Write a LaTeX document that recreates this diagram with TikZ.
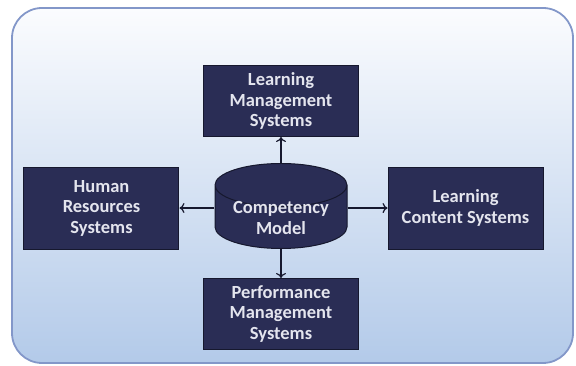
\documentclass[tikz,border=0pt]{standalone}
\usepackage{fontspec}
\setmainfont{Carlito}
\usetikzlibrary{positioning,shapes.geometric,arrows.meta}

\definecolor{boxfill}{HTML}{2A2D55}
\definecolor{boxline}{HTML}{16182E}
\definecolor{boxtext}{HTML}{E4E5EE}
\definecolor{panelline}{HTML}{8397C9}
\definecolor{paneltop}{HTML}{FBFCFE}
\definecolor{panelmid}{HTML}{DCE6F4}
\definecolor{panelbot}{HTML}{B3CAE9}

\tikzset{
  sysbox/.style={draw=boxline, line width=1pt, fill=boxfill, text=boxtext,
    font=\fontsize{18.5}{20.5}\selectfont\bfseries, align=center,
    minimum width=155pt, inner sep=0pt},
  model/.style={sysbox, shape=cylinder, shape border rotate=90, shape aspect=0.45,
    minimum width=132pt, minimum height=85pt},
  link/.style={-{To[length=5pt, width=10pt]}, line width=1.2pt, draw=boxline}
}
% text of the drum sits low, in its body
\newcommand{\lowtext}[1]{\raisebox{-17pt}[0pt][0pt]{\begin{tabular}[b]{@{}c@{}}#1\end{tabular}}}

\begin{document}
\begin{tikzpicture}[x=1pt, y=1pt, node distance=30pt]
\useasboundingbox (0,0) rectangle (576,366);
\draw[panelline, line width=1.8pt, rounded corners=30pt, top color=paneltop, middle color=panelmid, bottom color=panelbot]
  (12,3) rectangle (573,358);

\node (cm) [model, anchor=north] at (281,203) {\lowtext{Competency\\Model}};
\node (lms) [sysbox, minimum height=71pt, above=26pt of cm] {Learning\\Management\\Systems};
\node (hrs) [sysbox, minimum height=82pt, left=35pt of cm, yshift=9pt] {Human\\Resources\\Systems};
\node (lcs) [sysbox, minimum height=82pt, right=40pt of cm, yshift=9pt] {Learning\\Content Systems};
\node (pms) [sysbox, minimum height=71pt, below=29pt of cm] {Performance\\Management\\Systems};

\draw[link] (cm) to (lms);
\draw[link] (hrs.east -| cm.west) to (hrs.east);
\draw[link] (lcs.west -| cm.east) to (lcs.west);
\draw[link] (cm) to (pms);
\end{tikzpicture}
\end{document}
